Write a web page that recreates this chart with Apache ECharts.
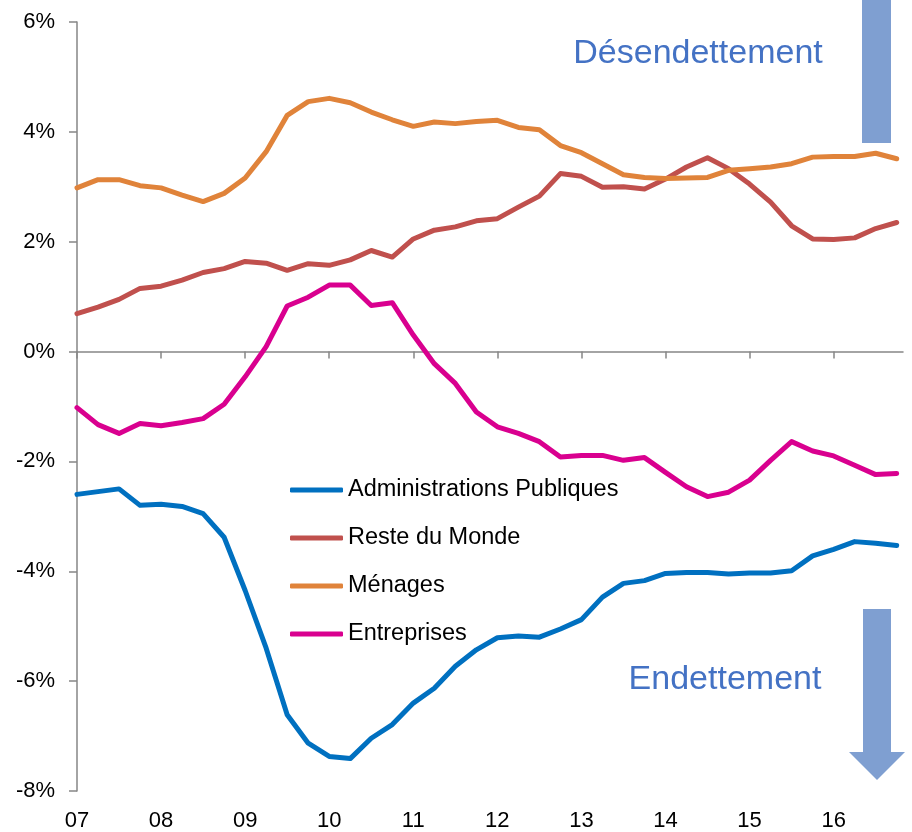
<!DOCTYPE html>
<html>
<head>
<meta charset="utf-8">
<script src="https://cdn.jsdelivr.net/npm/echarts@6/dist/echarts.min.js"></script>
<style>html,body{margin:0;padding:0;background:#fff}#c{width:912px;height:832px}</style>
</head>
<body>
<div id="c"></div>
<script>
// Quarterly data 2007T1 .. 2016T4 (% du PIB)
var quarters = [];
for (var y = 2007; y <= 2016; y++) { for (var q = 1; q <= 4; q++) { quarters.push(y + 'T' + q); } }
var yearLabels = ['07','08','09','10','11','12','13','14','15','16'];
var seriesNames = ['Administrations Publiques','Reste du Monde','Ménages','Entreprises'];

var adminPub = [-2.60,-2.55,-2.50,-2.80,-2.78,-2.82,-2.95,-3.38,-4.35,-5.40,
                -6.61,-7.13,-7.37,-7.41,-7.04,-6.79,-6.40,-6.13,-5.73,-5.43,
                -5.21,-5.18,-5.20,-5.05,-4.88,-4.47,-4.22,-4.17,-4.04,-4.02,
                -4.02,-4.05,-4.03,-4.03,-3.99,-3.72,-3.60,-3.46,-3.49,-3.53];
var resteMonde = [0.69,0.81,0.95,1.15,1.19,1.30,1.44,1.51,1.64,1.61,
                  1.48,1.60,1.57,1.67,1.84,1.72,2.05,2.21,2.27,2.38,
                  2.42,2.63,2.83,3.24,3.19,2.99,3.00,2.96,3.14,3.36,
                  3.53,3.33,3.05,2.72,2.29,2.05,2.04,2.07,2.24,2.35];
var menages = [2.98,3.13,3.13,3.02,2.98,2.85,2.73,2.88,3.16,3.64,
               4.30,4.55,4.61,4.53,4.36,4.22,4.10,4.18,4.15,4.19,
               4.21,4.08,4.04,3.75,3.62,3.42,3.22,3.17,3.15,3.16,
               3.17,3.30,3.33,3.36,3.42,3.54,3.55,3.55,3.61,3.51];
var entreprises = [-1.02,-1.33,-1.49,-1.31,-1.35,-1.29,-1.22,-0.96,-0.46,0.09,
                   0.83,0.99,1.21,1.21,0.84,0.89,0.30,-0.22,-0.58,-1.10,
                   -1.37,-1.49,-1.64,-1.92,-1.89,-1.89,-1.98,-1.93,-2.20,-2.46,
                   -2.64,-2.56,-2.34,-1.98,-1.64,-1.81,-1.90,-2.07,-2.24,-2.22];
var yTicks = [-8,-6,-4,-2,0,2,4,6];

var colors = ['#0070C0','#C0504D','#E0833A','#D9008F'];
var allValues = [adminPub, resteMonde, menages, entreprises];

function toPairs(arr){ return arr.map(function(v,i){ return [i, v]; }); }
var yearTickValues = yearLabels.map(function(l,i){ return i*4; });
var FONT = '"Liberation Sans", Arial, sans-serif';

var chart = echarts.init(document.getElementById('c'), null, {renderer:'canvas'});
chart.setOption({
  animation: false,
  backgroundColor: '#fff',
  grid: {left: 77, right: 9, top: 22, bottom: 39, containLabel: false},
  xAxis: [{
    type: 'value', min: 0, max: 39.3, position: 'bottom',
    axisLine: {show: true, onZero: true, lineStyle: {color: '#868686', width: 1.5}},
    axisTick: {show: true, length: 7, inside: false, customValues: yearTickValues, lineStyle: {color: '#868686', width: 1.5}},
    axisLabel: {show: false},
    splitLine: {show: false}
  },{
    type: 'value', min: 0, max: 39.3, position: 'bottom',
    axisLine: {show: false, onZero: false},
    axisTick: {show: false},
    axisLabel: {show: true, customValues: yearTickValues, margin: 19, fontSize: 22, color: '#000', fontFamily: FONT,
      formatter: function(v){ return yearLabels[Math.round(v/4)] || ''; }},
    splitLine: {show: false}
  }],
  yAxis: {
    type: 'value', min: -8, max: 6, interval: 2,
    axisLine: {show: true, onZero: false, lineStyle: {color: '#868686', width: 1.5}},
    axisTick: {show: true, length: 8, lineStyle: {color: '#868686', width: 1.5}},
    axisLabel: {margin: 22, fontSize: 22, color: '#000', fontFamily: FONT, formatter: '{value}%'},
    splitLine: {show: false}
  },
  legend: {
    orient: 'vertical', left: 290, top: 478, padding: 0,
    icon: 'roundRect',
    itemWidth: 53, itemHeight: 5, itemGap: 24,
    data: seriesNames,
    textStyle: {fontSize: 23.5, lineHeight: 24, color: '#000', fontFamily: FONT}
  },
  series: seriesNames.map(function(n, k){
    return {
      name: n, type: 'line', xAxisIndex: 0, data: toPairs(allValues[k]),
      symbol: 'none', showSymbol: false, smooth: false,
      lineStyle: {color: colors[k], width: 5, cap: 'round', join: 'round'},
      itemStyle: {color: colors[k]}
    };
  }),
  graphic: [
    {type: 'rect', shape: {x: 862, y: 0, width: 29, height: 143}, style: {fill: '#7F9FD1'}},
    {type: 'rect', shape: {x: 863, y: 609, width: 28, height: 144}, style: {fill: '#7F9FD1'}},
    {type: 'polygon', shape: {points: [[849,752],[905,752],[877,780]]}, style: {fill: '#7F9FD1'}},
    {type: 'text', x: 698, y: 54, style: {text: 'Désendettement', fill: '#4472C4', fontSize: 34, fontFamily: FONT, textAlign: 'center', textVerticalAlign: 'middle'}},
    {type: 'text', x: 725, y: 680, style: {text: 'Endettement', fill: '#4472C4', fontSize: 34, fontFamily: FONT, textAlign: 'center', textVerticalAlign: 'middle'}}
  ]
});
</script>
</body>
</html>
